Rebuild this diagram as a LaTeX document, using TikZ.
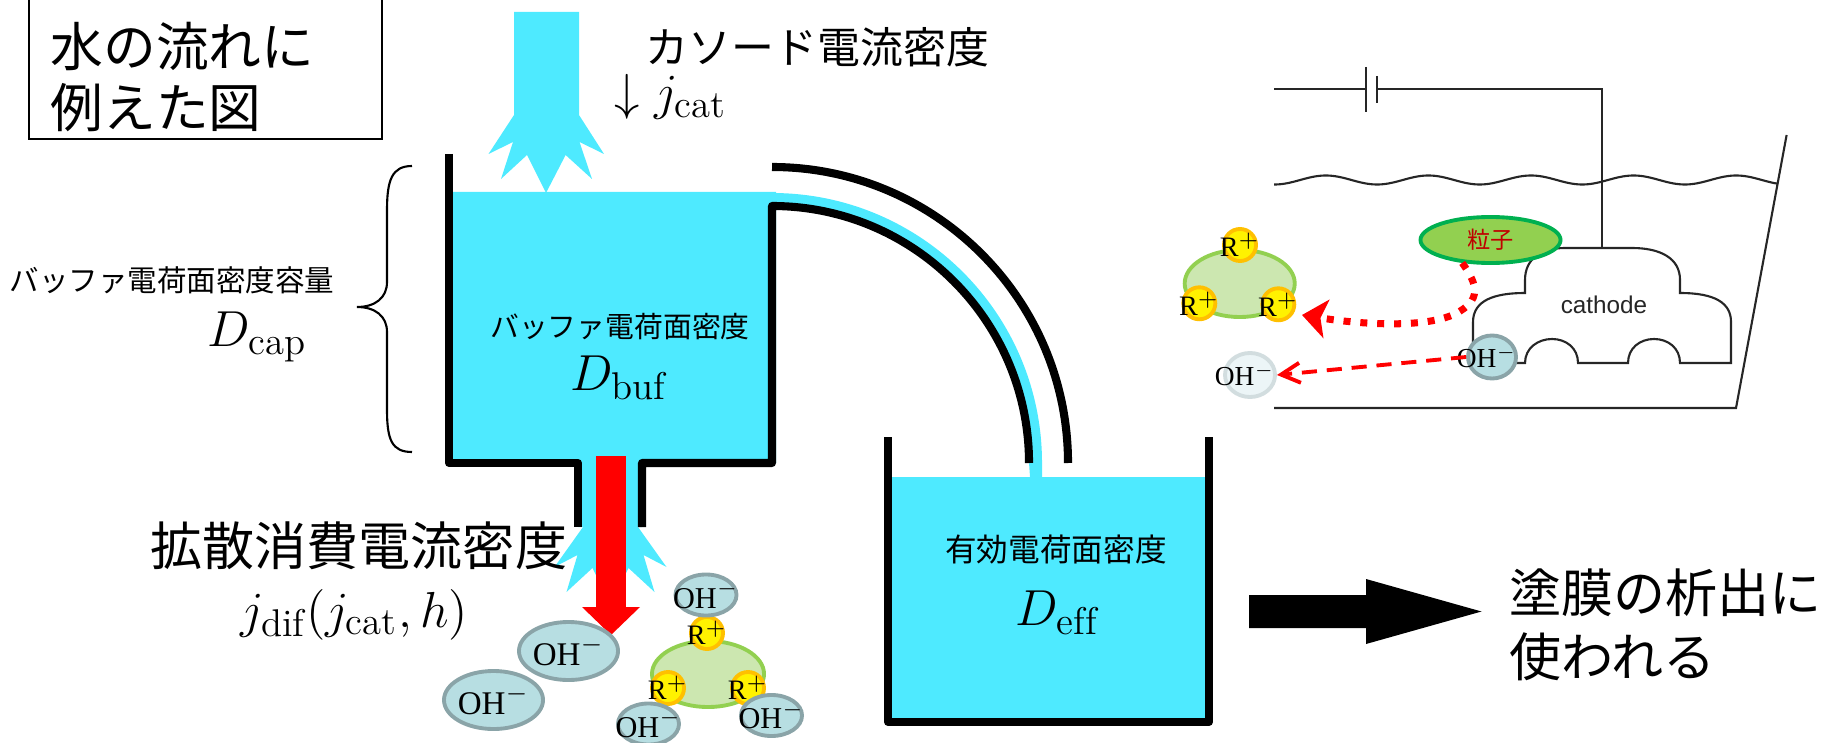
\documentclass[tikz,border=0pt]{standalone}
\usepackage{fontspec}
\newfontfamily\jp{Noto Sans CJK JP}
\newfontfamily\lser{Liberation Serif}
\newfontfamily\lsans{Liberation Sans}
\usetikzlibrary{arrows.meta,shapes.geometric}
\newcommand\myfs[2]{\fontsize{#1}{#2}\selectfont}
\DeclareMathSizes{14.4}{14.4}{11}{9}
\definecolor{water}{RGB}{78,234,255}
\definecolor{ohfill}{RGB}{183,222,226}
\definecolor{ohline}{RGB}{138,164,168}
\definecolor{clfill}{RGB}{204,231,176}
\definecolor{clline}{RGB}{146,208,80}
\definecolor{rline}{RGB}{255,192,0}
\definecolor{pfill}{RGB}{146,208,80}
\definecolor{pline}{RGB}{0,176,80}
\definecolor{ptext}{RGB}{192,0,0}
\definecolor{palefill}{RGB}{236,245,247}
\definecolor{paleline}{RGB}{210,221,223}
\begin{document}
\begin{tikzpicture}[x=0.01cm,y=-0.01cm,
  wall/.style={line width=2.3pt,line join=round},
  thinline/.style={line width=0.6pt,black!85},
  ohtext/.style={font=\lser\myfs{9.4pt}{10pt},inner sep=0pt},
  ohmidtext/.style={font=\lser\myfs{8.6pt}{9pt},inner sep=0pt},
  ohsmalltext/.style={font=\lser\myfs{7.8pt}{9pt},inner sep=0pt},
  rtext/.style={font=\lser\myfs{8pt}{9pt},inner sep=0pt},
  ohbig/.style={ellipse,draw=ohline,fill=ohfill,line width=1.1pt,inner sep=0pt,
    minimum width=0.99cm,minimum height=0.58cm,label={[ohtext]center:OH$^-$}},
  ohsmall/.style={ellipse,draw=ohline,fill=ohfill,line width=1.1pt,inner sep=0pt,
    minimum width=0.61cm,minimum height=0.41cm,label={[ohmidtext]center:OH$^-$}},
  rion/.style={circle,draw=rline,fill=yellow,line width=1.1pt,inner sep=0pt,
    minimum size=0.32cm,label={[rtext]center:R$^+$}},
  clusterbody/.style={ellipse,draw=clline,fill=clfill,line width=1.1pt,inner sep=0pt,
    minimum width=1.12cm,minimum height=0.66cm},
  mathlabel/.style={font=\myfs{14.4pt}{17pt},inner sep=0pt}]
\useasboundingbox (0,0) rectangle (1825,743);

% ---------- title box ----------
\draw[line width=0.6pt] (29,-5) -- (29,139) -- (382,139) -- (382,-5);
\node[anchor=west,align=left,inner sep=0pt,font=\jp\myfs{15pt}{17.5pt}] (title) at (50,77) {水の流れに\\例えた図};

% ---------- water bodies ----------
\fill[water] (449,192) -- (776,192) -- (776,463) -- (642,463) -- (642,527) -- (578,527) -- (578,463) -- (449,463) -- cycle;
\fill[water] (772,193) arc[start angle=-90,end angle=0,radius=270] -- (1042,477) -- (1030,477) -- (1029,463) arc[start angle=0,end angle=-90,radius=257] -- cycle;
\fill[water] (888,477) rectangle (1209,722);
% incoming jet
\fill[water] (514,12) -- (579,12) -- (579,115) -- (604,154) -- (579.5,142) -- (592,179) -- (565.6,155) -- (546,193) -- (527,155) -- (501,179) -- (513,142) -- (488.5,154) -- (514,115) -- cycle;
% outgoing spray under the outlet
\fill[water] (583,527) -- (554.5,567) -- (577.5,555) -- (566.5,592) -- (592.5,568) -- (610.5,605) -- (628.5,568) -- (654.5,592) -- (643.5,555) -- (666.5,567) -- (638,527) -- cycle;

% red diffusion arrow
\fill[red] (596,456) rectangle (626,607);
\fill[red] (582,607) -- (640,607) -- (611,635) -- cycle;

% ---------- tank walls and pipe ----------
\draw[wall] (449,154) -- (449,463) -- (578,463) -- (578,527);
\draw[wall] (642,527) -- (642,463) -- (772,463) -- (772,206) arc[start angle=-90,end angle=0,radius=257];
\draw[wall] (772,167) arc[start angle=-90,end angle=0,radius=296];
\draw[wall] (888,437) -- (888,722) -- (1209,722) -- (1209,437);

% ---------- brace ----------
\draw[line width=0.6pt] (412,166) .. controls (392,166) and (387,180) .. (387,210) -- (387,282) .. controls (387,298) and (375,307) .. (357,307) .. controls (375,307) and (387,316) .. (387,332) -- (387,410) .. controls (387,440) and (392,452) .. (412,452);

% ---------- labels ----------
\node[anchor=west,inner sep=0pt,font=\jp\myfs{12.2pt}{14pt}] (jcattitle) at (645,47) {カソード電流密度};
\node[anchor=base west,mathlabel] (jcat) at (614,110) {$\downarrow j_{\mathrm{cat}}$};
\node[inner sep=0pt,font=\jp\myfs{8.4pt}{10pt}] (captitle) at (172,280) {バッファ電荷面密度容量};
\node[anchor=base,mathlabel] (dcap) at (257,347) {$D_{\mathrm{cap}}$};
\node[inner sep=0pt,font=\jp\myfs{8.2pt}{10pt}] (buftitle) at (620,327) {バッファ電荷面密度};
\node[anchor=base,mathlabel] (dbuf) at (619,390) {$D_{\mathrm{buf}}$};
\node[inner sep=0pt,font=\jp\myfs{9pt}{11pt}] (efftitle) at (1056,550) {有効電荷面密度};
\node[anchor=base,mathlabel] (deff) at (1057,625) {$D_{\mathrm{eff}}$};
\node[anchor=west,inner sep=0pt,font=\jp\myfs{14.8pt}{14pt}] (diftitle) at (150,546) {拡散消費電流密度};
\node[anchor=base west,mathlabel] (jdif) at (240,627) {$j_{\mathrm{dif}}(j_{\mathrm{cat}},h)$};
\node[anchor=west,align=left,inner sep=0pt,font=\jp\myfs{14.8pt}{18.2pt}] (usage) at (1509,625) {塗膜の析出に\\使われる};

% black output arrow
\fill (1249,595) -- (1366,595) -- (1366,579) -- (1481.5,611.5) -- (1366,644) -- (1366,628) -- (1249,628) -- cycle;

% ---------- ions below the outlet ----------
\node[clusterbody] (cl1) at (708,674) {};
\node[rion] (r1a) at (707,633) {};
\node[rion] (r1b) at (668,688) {};
\node[rion] (r1c) at (748,688) {};
\node[ohsmall] (oh1a) at (706,595) {};
\node[ohsmall] (oh1b) at (648.5,724) {};
\node[ohsmall] (oh1c) at (771.5,715.5) {};
\node[ohbig] (ohb1) at (568.5,651) {};
\node[ohbig] (ohb2) at (493.5,700) {};

% ---------- electrodeposition cell ----------
\draw[thinline] (1274,89) -- (1366,89);
\draw[thinline] (1366,67) -- (1366,112);
\draw[thinline] (1377,76) -- (1377,103);
\draw[thinline] (1377,89) -- (1602,89) -- (1602,248);
\draw[thinline] plot[domain=1274:1778,samples=240,smooth] (\x,{180+4.5*cos(3.50877*(\x-1274.5))});
\draw[thinline] (1786.6,135) -- (1736,408) -- (1274,408);
\draw[thinline,fill=white] (1473,363) -- (1473,322) .. controls (1473,300) and (1495,293) .. (1525,293) -- (1525,280) .. controls (1525,258) and (1542,248) .. (1565,248) -- (1632,248) .. controls (1660,248) and (1680,258) .. (1680,280) -- (1680,293) .. controls (1715,293) and (1731,303) .. (1731,322) -- (1731,363) -- (1680,363) .. controls (1680,348) and (1668,339) .. (1654,339) .. controls (1640,339) and (1628,348) .. (1628,363) -- (1578,363) .. controls (1578,348) and (1566,339) .. (1552,339) .. controls (1538,339) and (1525,348) .. (1525,363) -- cycle;
\node[inner sep=0pt,font=\lsans\myfs{6.9pt}{8pt},black!85] (cathode) at (1604,305) {cathode};

\node[ellipse,draw=pline,fill=pfill,line width=1.1pt,inner sep=0pt,minimum width=1.40cm,minimum height=0.46cm,
  label={[inner sep=0pt,font=\jp\myfs{6.6pt}{8pt},text=ptext]center:粒子}] (particle) at (1490.5,240) {};

\node[clusterbody,minimum width=1.10cm,minimum height=0.67cm] (cl2) at (1239.7,283.5) {};
\node[rion] (r2a) at (1240,245) {};
\node[rion] (r2b) at (1199.3,303.3) {};
\node[rion] (r2c) at (1278.3,304.3) {};

\node[ellipse,draw=paleline,fill=palefill,line width=1.1pt,inner sep=0pt,minimum width=0.50cm,minimum height=0.44cm,
  label={[ohsmalltext,xshift=-0.05cm]center:OH$^-$}] (ohpale) at (1250,375) {};
\node[ellipse,draw=ohline,fill=ohfill,line width=1.1pt,inner sep=0pt,minimum width=0.48cm,minimum height=0.43cm,
  label={[ohsmalltext,xshift=-0.05cm]center:OH$^-$}] (ohcath) at (1492,357) {};

\coordinate (dtip) at (1302,315);
\draw[red,line width=2pt,dash pattern=on 2pt off 2.8pt,-{Stealth[length=7pt,width=11pt,inset=1.7pt]}]
  (particle.219) .. controls (1478,285) and (1482,300) .. (1455,314) .. controls (1425,328) and (1365,325) .. (dtip);
\draw[red,line width=1.1pt,dash pattern=on 4.3pt off 2.8pt,-{Straight Barb[length=5.4pt,width=5.7pt]}]
  (ohcath.west) -- (ohpale.east);
\end{tikzpicture}
\end{document}
